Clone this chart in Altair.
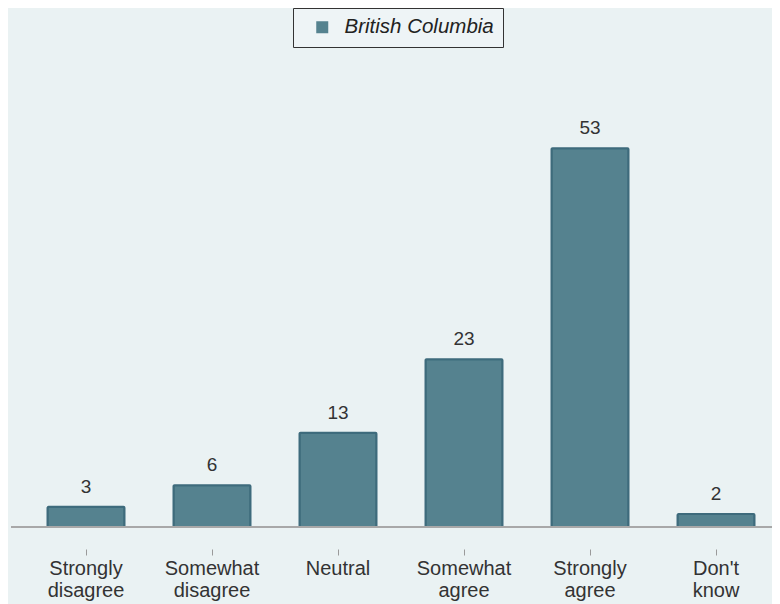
import altair as alt
import pandas as pd

categories = ["Strongly\ndisagree", "Somewhat\ndisagree", "Neutral",
              "Somewhat\nagree", "Strongly\nagree", "Don't\nknow"]
values = [2.8, 5.8, 13.1, 23.3, 52.6, 1.8]
series = ["British Columbia"] * len(categories)

df = pd.DataFrame({"cat": categories, "value": values, "series": series})

FONT = "Liberation Sans"

x = alt.X("cat:N", sort=categories, title=None,
          scale=alt.Scale(paddingInner=0.389, paddingOuter=0.2143, align=0.676),
          axis=alt.Axis(labelAngle=0, domain=False, offset=22, tickSize=6,
                        tickColor="#9a9a9a", tickWidth=1, labelPadding=3,
                        labelFontSize=20, labelColor="#333333", labelFont=FONT,
                        labelLineHeight=22,
                        labelExpr="split(datum.label, '\\n')"))
y = alt.Y("value:Q", scale=alt.Scale(domain=[0, 60], nice=False), axis=None)

bars = alt.Chart(df).mark_bar(stroke="#3E6B7C", strokeWidth=2, cornerRadius=1).encode(
    x=x, y=y,
    color=alt.Color("series:N", scale=alt.Scale(range=["#55828F"]),
                    legend=alt.Legend(title=None, orient="none", legendX=282, legendY=-87,
                                      fillColor="#EEF4F6", strokeColor="#333333",
                                      padding=9, symbolType="square", symbolSize=144,
                                      symbolOffset=10, symbolStrokeWidth=0,
                                      labelFontSize=20.5, labelFontStyle="italic",
                                      labelColor="#222222", labelFont=FONT,
                                      labelOffset=12)),
)

labels = alt.Chart(df).mark_text(baseline="bottom", dy=-10, fontSize=19,
                                 color="#333333", font=FONT).encode(
    x=x, y=y, text=alt.Text("value:Q", format=".0f"))

base = alt.Chart(pd.DataFrame({"v": [0]})).mark_rule(color="#a8a8a8", strokeWidth=2).encode(
    y=alt.Y("v:Q", scale=alt.Scale(domain=[0, 60], nice=False), axis=None))

chart = alt.layer(bars, labels, base).properties(
    width=761, height=432,
    padding={"left": 3, "top": 87, "right": 0, "bottom": 77},
    autosize=alt.AutoSizeParams(type="none"),
    background="#EAF2F3",
).configure(font=FONT).configure_view(stroke=None, strokeWidth=0)

chart.save("out.html", embed_options={"renderer": "svg", "actions": False})
